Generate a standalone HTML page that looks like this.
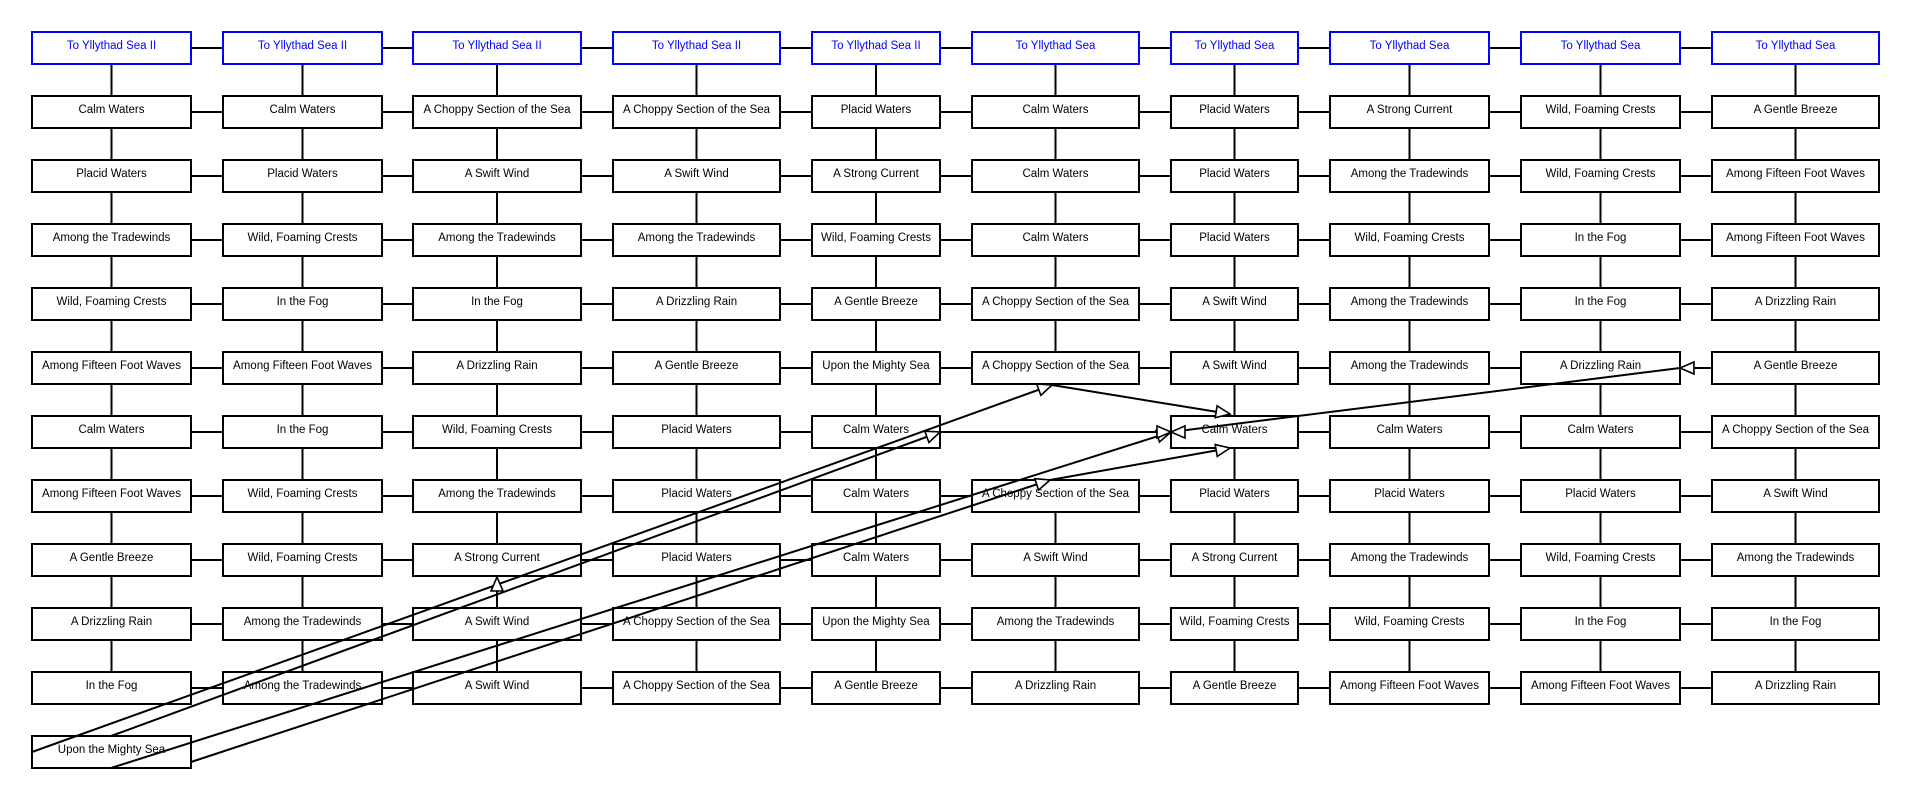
<!DOCTYPE html>
<html><head><meta charset="utf-8"><style>
html,body{margin:0;padding:0;background:#fff;}
svg{display:block;}
text{font-family:"Liberation Sans",sans-serif;font-size:11.5px;text-anchor:middle;fill:#000;}
.h text{fill:#0000ff;}
</style></head><body>
<svg id="s" width="1911" height="800" xmlns="http://www.w3.org/2000/svg">
<g id="shapes"></g>
<g transform="translate(111.5,0)"><g class="h"><text y="49">To Yllythad Sea II</text></g>
<text y="113">Calm Waters</text><text y="177">Placid Waters</text><text y="241">Among the Tradewinds</text><text y="305">Wild, Foaming Crests</text><text y="369">Among Fifteen Foot Waves</text><text y="433">Calm Waters</text><text y="497">Among Fifteen Foot Waves</text><text y="561">A Gentle Breeze</text><text y="625">A Drizzling Rain</text><text y="689">In the Fog</text><text y="753">Upon the Mighty Sea</text></g>
<g transform="translate(302.5,0)"><g class="h"><text y="49">To Yllythad Sea II</text></g>
<text y="113">Calm Waters</text><text y="177">Placid Waters</text><text y="241">Wild, Foaming Crests</text><text y="305">In the Fog</text><text y="369">Among Fifteen Foot Waves</text><text y="433">In the Fog</text><text y="497">Wild, Foaming Crests</text><text y="561">Wild, Foaming Crests</text><text y="625">Among the Tradewinds</text><text y="689">Among the Tradewinds</text></g>
<g transform="translate(497,0)"><g class="h"><text y="49">To Yllythad Sea II</text></g>
<text y="113">A Choppy Section of the Sea</text><text y="177">A Swift Wind</text><text y="241">Among the Tradewinds</text><text y="305">In the Fog</text><text y="369">A Drizzling Rain</text><text y="433">Wild, Foaming Crests</text><text y="497">Among the Tradewinds</text><text y="561">A Strong Current</text><text y="625">A Swift Wind</text><text y="689">A Swift Wind</text></g>
<g transform="translate(696.5,0)"><g class="h"><text y="49">To Yllythad Sea II</text></g>
<text y="113">A Choppy Section of the Sea</text><text y="177">A Swift Wind</text><text y="241">Among the Tradewinds</text><text y="305">A Drizzling Rain</text><text y="369">A Gentle Breeze</text><text y="433">Placid Waters</text><text y="497">Placid Waters</text><text y="561">Placid Waters</text><text y="625">A Choppy Section of the Sea</text><text y="689">A Choppy Section of the Sea</text></g>
<g transform="translate(876,0)"><g class="h"><text y="49">To Yllythad Sea II</text></g>
<text y="113">Placid Waters</text><text y="177">A Strong Current</text><text y="241">Wild, Foaming Crests</text><text y="305">A Gentle Breeze</text><text y="369">Upon the Mighty Sea</text><text y="433">Calm Waters</text><text y="497">Calm Waters</text><text y="561">Calm Waters</text><text y="625">Upon the Mighty Sea</text><text y="689">A Gentle Breeze</text></g>
<g transform="translate(1055.5,0)"><g class="h"><text y="49">To Yllythad Sea</text></g>
<text y="113">Calm Waters</text><text y="177">Calm Waters</text><text y="241">Calm Waters</text><text y="305">A Choppy Section of the Sea</text><text y="369">A Choppy Section of the Sea</text><text y="497">A Choppy Section of the Sea</text><text y="561">A Swift Wind</text><text y="625">Among the Tradewinds</text><text y="689">A Drizzling Rain</text></g>
<g transform="translate(1234.5,0)"><g class="h"><text y="49">To Yllythad Sea</text></g>
<text y="113">Placid Waters</text><text y="177">Placid Waters</text><text y="241">Placid Waters</text><text y="305">A Swift Wind</text><text y="369">A Swift Wind</text><text y="433">Calm Waters</text><text y="497">Placid Waters</text><text y="561">A Strong Current</text><text y="625">Wild, Foaming Crests</text><text y="689">A Gentle Breeze</text></g>
<g transform="translate(1409.5,0)"><g class="h"><text y="49">To Yllythad Sea</text></g>
<text y="113">A Strong Current</text><text y="177">Among the Tradewinds</text><text y="241">Wild, Foaming Crests</text><text y="305">Among the Tradewinds</text><text y="369">Among the Tradewinds</text><text y="433">Calm Waters</text><text y="497">Placid Waters</text><text y="561">Among the Tradewinds</text><text y="625">Wild, Foaming Crests</text><text y="689">Among Fifteen Foot Waves</text></g>
<g transform="translate(1600.5,0)"><g class="h"><text y="49">To Yllythad Sea</text></g>
<text y="113">Wild, Foaming Crests</text><text y="177">Wild, Foaming Crests</text><text y="241">In the Fog</text><text y="305">In the Fog</text><text y="369">A Drizzling Rain</text><text y="433">Calm Waters</text><text y="497">Placid Waters</text><text y="561">Wild, Foaming Crests</text><text y="625">In the Fog</text><text y="689">Among Fifteen Foot Waves</text></g>
<g transform="translate(1795.5,0)"><g class="h"><text y="49">To Yllythad Sea</text></g>
<text y="113">A Gentle Breeze</text><text y="177">Among Fifteen Foot Waves</text><text y="241">Among Fifteen Foot Waves</text><text y="305">A Drizzling Rain</text><text y="369">A Gentle Breeze</text><text y="433">A Choppy Section of the Sea</text><text y="497">A Swift Wind</text><text y="561">Among the Tradewinds</text><text y="689">A Drizzling Rain</text><text y="625">In the Fog</text></g>
<g id="over"></g>
</svg>
<script>
var NS="http://www.w3.org/2000/svg";
var X=[32,223,413,613,812,972,1171,1330,1521,1712],W=[159,159,168,167,128,167,127,159,159,167];
var sh=document.getElementById('shapes'),ov=document.getElementById('over');
function el(p,t,a){var e=document.createElementNS(NS,t);for(var k in a)e.setAttribute(k,a[k]);p.appendChild(e);return e;}
function has(c,r){if(r<0)return false;if(r==11)return c==0;if(r>11)return false;if(c==5&&r==6)return false;return true;}
function ln(x1,y1,x2,y2,p){el(p||sh,'line',{x1:x1,y1:y1,x2:x2,y2:y2,stroke:'#000','stroke-width':2});}
for(var c=0;c<10;c++){var cx=X[c]+W[c]/2;
 for(var r=0;r<12;r++){ if(!has(c,r))continue;var y=32+64*r;
  if(has(c,r+1)&&!(c==0&&r==10)) ln(cx,y+32,cx,y+64);
  if(c<9&&has(c+1,r)&&r<11) ln(X[c]+W[c],y+16,X[c+1],y+16);
 }}
for(var c=0;c<10;c++)for(var r=0;r<12;r++){if(!has(c,r))continue;
 el(sh,'rect',{x:X[c],y:32+64*r,width:W[c],height:32,fill:'#fff',stroke:r==0?'#0000ff':'#000','stroke-width':2});}
function arrow(x1,y1,x2,y2){var dx=x2-x1,dy=y2-y1,L=Math.hypot(dx,dy);dx/=L;dy/=L;
 var bx=x2-dx*14,by=y2-dy*14,px=-dy*6,py=dx*6;
 el(ov,'polygon',{points:x2+','+y2+' '+(bx+px)+','+(by+py)+' '+(bx-px)+','+(by-py),fill:'#fff',stroke:'#000','stroke-width':1.6});}
function conn(x1,y1,x2,y2,a){ln(x1,y1,x2,y2,ov);}
var lines=[[32,752,1052,385],[111,736,940,432],[191,762,1050,480],[111,768,1171,432],[1052,385,1230,414],[1050,480,1230,448],[940,432,1171,432],[1680,368,1171,432]];
lines.forEach(function(l){conn(l[0],l[1],l[2],l[3]);});
arrow(32,752,1052,385);arrow(111,736,940,432);arrow(191,762,1050,480);arrow(111,768,1171,432);
arrow(1052,385,1230,414);arrow(1050,480,1230,448);arrow(940,432,1171,432);
arrow(1690,368,1680,368);arrow(1185,432,1171,432);
arrow(497,620,497,577);
</script>
</body></html>
